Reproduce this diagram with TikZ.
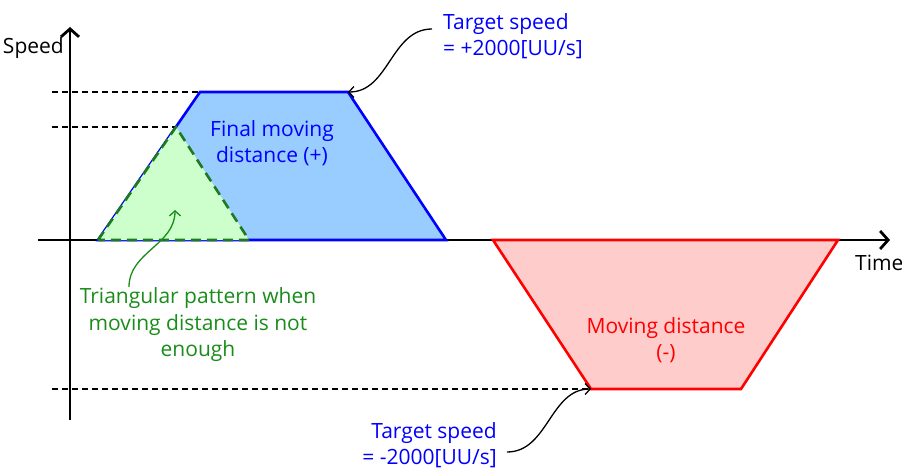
\documentclass[tikz,border=0pt]{standalone}
\usepackage{fontspec}
\setmainfont{Open Sans}
\usetikzlibrary{arrows.meta}
\definecolor{areablue}{HTML}{99CCFF}
\definecolor{lineblue}{HTML}{0000FF}
\definecolor{areagreen}{HTML}{CCFFCC}
\definecolor{linegreen}{HTML}{1E7A1E}
\definecolor{textgreen}{HTML}{1A8C1A}
\definecolor{areared}{HTML}{FFCCCC}
\definecolor{linered}{HTML}{FF0000}

\begin{document}
\begin{tikzpicture}[x=1pt,y=-1pt,
	every node/.style={font=\fontsize{21}{26.5}\selectfont,inner sep=0pt},
	axis/.style={line width=2.8pt,-{Straight Barb[length=8pt,width=18pt]}},
	guide/.style={line width=1.3pt,dash pattern=on 6pt off 4pt},
	callout/.style={line width=1.3pt,-{Straight Barb[length=5pt,width=11pt]}}]
		\useasboundingbox (0,0) rectangle (902,468);
		% axes
		\coordinate (ybot) at (70,420);
		\coordinate (ytop) at (70,27);
		\coordinate (xleft) at (38,240);
		\coordinate (xright) at (890,240);
		\draw[axis] (ybot) -- (ytop);
		\draw[axis] (xleft) -- (xright);
		\node[anchor=east] (speed) at (64,48) {Speed};
		\node[anchor=west] (time) at (855,263) {Time};
		% profile corners
		\coordinate (P1) at (98,240);
		\coordinate (P2) at (200,92);
		\coordinate (P3) at (348,92);
		\coordinate (P4) at (446,240);
		\coordinate (T2) at (176,127);
		\coordinate (T3) at (249,240);
		\coordinate (N1) at (493,240);
		\coordinate (N2) at (838,240);
		\coordinate (N3) at (741,389);
		\coordinate (N4) at (591,389);
		\coordinate (G1) at (52,92);
		\coordinate (G2) at (52,127);
		\coordinate (G3) at (52,389);
		\draw[guide] (G1) -- (P2);
		\draw[guide] (G2) -- (T2);
		\draw[guide] (G3) -- (N4);
		\draw[line width=2.6pt,draw=lineblue,fill=areablue] (P1) -- (P2) -- (P3) -- (P4) -- cycle;
		\draw[line width=2.6pt,draw=linered,fill=areared] (N1) -- (N2) -- (N3) -- (N4) -- cycle;
		\fill[areagreen] (P1) -- (T2) -- (T3) -- cycle;
		\draw[line width=2.6pt,draw=linegreen,dash pattern=on 10pt off 6pt] (P1) -- (T2) -- (T3) -- cycle;
		% labels
		\node[text=lineblue,align=center] (finalpos) at (272,143) {Final moving\\distance (+)};
		\node[text=textgreen,align=center] (trinote) at (198,325) {Triangular pattern when\\moving distance is not\\enough};
		\node[text=linered,align=center] (negdist) at (666,340) {Moving distance\\(-)};
		\node[text=lineblue,align=left,anchor=west] (tgtpos) at (443,36) {Target speed\\= +2000[UU/s]};
		\node[text=lineblue,align=right,anchor=east] (tgtneg) at (497,445) {Target speed\\= -2000[UU/s]};
		\coordinate (tri) at (175,210);
		\draw[callout] ([xshift=-11pt,yshift=7pt]tgtpos.west) to[out=180,in=0] (P3);
		\draw[callout] ([xshift=10pt,yshift=-7pt]tgtneg.east) to[out=0,in=180] (N4);
		\draw[callout,draw=textgreen] (129,287) to[out=90,in=-90] (tri);
	\end{tikzpicture}
\end{document}
